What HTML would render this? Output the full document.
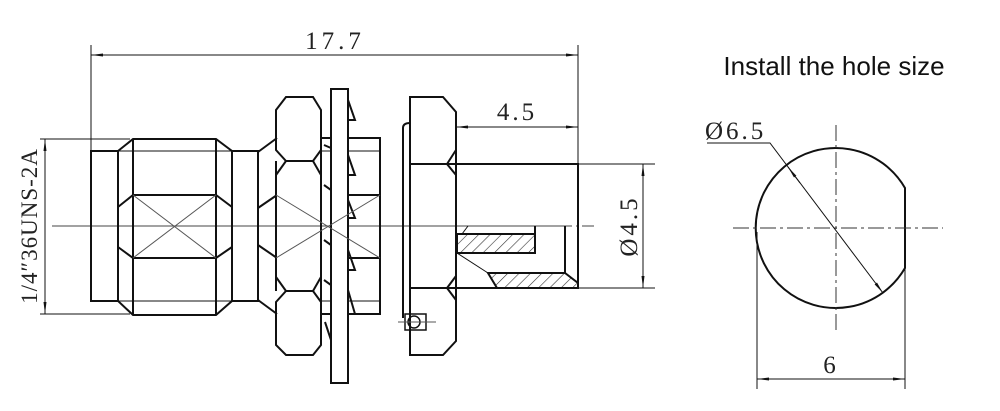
<!DOCTYPE html>
<html><head><meta charset="utf-8"><style>
html,body{margin:0;padding:0;background:#fff;width:1000px;height:411px;overflow:hidden}
svg{display:block}
.t{font-family:"Liberation Serif",serif;font-size:25px;fill:#222;letter-spacing:3px}
</style></head><body>
<svg width="1000" height="411" viewBox="0 0 1000 411" xmlns="http://www.w3.org/2000/svg">
<defs>
<marker id="a" viewBox="0 0 12 4" refX="12" refY="2" markerWidth="12" markerHeight="4" orient="auto-start-reverse" markerUnits="userSpaceOnUse"><path d="M0,0.5 L12,2 L0,3.5z" fill="#111"/></marker>
<pattern id="h" width="8" height="8" patternUnits="userSpaceOnUse" patternTransform="rotate(45)"><line x1="0" y1="0" x2="0" y2="8" stroke="#333" stroke-width="1.2"/></pattern>
</defs>
<g stroke="#111" fill="none" stroke-width="1">
<line x1="91" y1="45" x2="91" y2="151"/>
<line x1="578" y1="45" x2="578" y2="164"/>
<line x1="91" y1="55" x2="578" y2="55" marker-start="url(#a)" marker-end="url(#a)"/>
<line x1="456" y1="127" x2="578" y2="127" marker-start="url(#a)" marker-end="url(#a)"/>
<line x1="40" y1="139" x2="130" y2="139"/>
<line x1="40" y1="314" x2="130" y2="314"/>
<line x1="45" y1="139" x2="45" y2="314" marker-start="url(#a)" marker-end="url(#a)"/>
<line x1="578" y1="164" x2="655" y2="164"/>
<line x1="578" y1="288" x2="655" y2="288"/>
<line x1="643" y1="164" x2="643" y2="288" marker-start="url(#a)" marker-end="url(#a)"/>
<line x1="52" y1="226" x2="560" y2="226" stroke="#444"/>
<line x1="560" y1="226" x2="596" y2="226" stroke="#444" stroke-dasharray="12,4,2,4"/>
</g>
<g stroke="#111" fill="none" stroke-width="2">
<rect x="91" y="151" width="27" height="150"/>
<polygon points="118,151 133,139 216,139 232,151 232,301 216,315 133,315 118,301"/>
<line x1="133" y1="139" x2="133" y2="315"/>
<line x1="216" y1="139" x2="216" y2="315"/>
<polyline points="118,207 133,195 216,195 232,207"/>
<polyline points="118,247 133,258 216,258 232,247"/>
<line x1="118" y1="151" x2="232" y2="151" stroke-width="1"/>
<line x1="118" y1="301" x2="232" y2="301" stroke-width="1"/>
<rect x="232" y="151" width="26" height="150"/>
<polyline points="258,152 277,138"/>
<polyline points="258,208 277,195"/>
<polyline points="258,300 277,314"/>
<polyline points="258,245 277,258"/>
<polygon points="276,110 286,97 313,97 321,110 321,150 313,161 286,161 276,150"/>
<polygon points="276,302 286,291 313,291 321,302 321,345 313,355 286,355 276,345"/>
<line x1="276" y1="161" x2="276" y2="291"/>
<line x1="321" y1="161" x2="321" y2="291"/>
<polyline points="276,175 286,161"/><polyline points="321,175 313,161"/>
<polyline points="276,277 286,291"/><polyline points="321,277 313,291"/>
<rect x="321" y="138" width="59" height="176"/>
<line x1="348" y1="195" x2="380" y2="195"/>
<line x1="348" y1="258" x2="380" y2="258"/>
<line x1="321" y1="151" x2="380" y2="151" stroke-width="1"/>
<line x1="321" y1="301" x2="380" y2="301" stroke-width="1"/>
<polyline points="324,145 331,148 331,160"/><polyline points="324,185 331,190 331,200"/>
<polyline points="324,240 331,245 331,255"/><polyline points="324,280 331,285 331,295"/>
<polyline points="348,100 355,120 348,120"/><polyline points="348,155 355,175 348,175"/>
<polyline points="348,200 355,218 348,218"/><polyline points="348,250 355,270 348,270"/>
<polyline points="348,290 355,314"/>
<polyline points="325,322 331,340"/><polyline points="348,322 343,340 348,345"/>
<rect x="331" y="89" width="17" height="294" fill="#fff"/>
<path d="M403,318 L403,128 Q403,123 410,123"/>
<polygon points="410,97 443,97 456,112 456,341 443,355 410,355"/>
<line x1="410" y1="164" x2="456" y2="164"/>
<line x1="410" y1="288" x2="456" y2="288"/>
<polyline points="456,150 447,164 456,175"/>
<polyline points="456,276 447,288 456,300"/>
<rect x="405" y="314" width="21" height="16" stroke-width="1.5"/>
<circle cx="414" cy="322" r="6" stroke-width="1.5"/>
<polygon points="456,164 578,164 578,288 456,288"/>
<polygon points="457,234 462,234 535,234 535,253 457,253" fill="url(#h)"/>
<polygon points="488,273 565,273 578,283 578,288 497,288" fill="url(#h)"/>
<line x1="535" y1="226" x2="535" y2="234"/>
<line x1="565" y1="226" x2="565" y2="273"/>
<line x1="462" y1="234" x2="468" y2="226" stroke-width="1"/>
<line x1="457" y1="253" x2="488" y2="273" stroke-width="1"/>
</g>
<g stroke="#555" stroke-width="1" fill="none">
<line x1="133" y1="195" x2="216" y2="258"/><line x1="133" y1="258" x2="216" y2="195"/>
<line x1="276" y1="195" x2="380" y2="258"/><line x1="276" y1="258" x2="380" y2="195"/>
<line x1="398" y1="322" x2="436" y2="322"/>
</g>
<text class="t" x="335" y="49" text-anchor="middle" style="letter-spacing:4px">17.7</text>
<text class="t" x="517" y="120" text-anchor="middle">4.5</text>
<text class="t" transform="translate(37,226) rotate(-90)" text-anchor="middle" style="font-size:23px;letter-spacing:1px">1/4″36UNS-2A</text>
<text class="t" transform="translate(637,226) rotate(-90)" text-anchor="middle">Ø4.5</text>
<text x="834" y="75" text-anchor="middle" font-family="'Liberation Sans',sans-serif" font-size="26" fill="#111">Install the hole size</text>
<g stroke="#111" fill="none">
<path d="M905,188 A80,80 0 1,0 905,268 Z" stroke-width="2"/>
<line x1="733" y1="228" x2="943" y2="228" stroke-dasharray="16,4,3,4" stroke="#333"/>
<line x1="836" y1="125" x2="836" y2="333" stroke-dasharray="16,4,3,4" stroke="#333"/>
<line x1="757" y1="232" x2="757" y2="389"/>
<line x1="905" y1="268" x2="905" y2="389"/>
<line x1="757" y1="379" x2="905" y2="379" marker-start="url(#a)" marker-end="url(#a)"/>
<polyline points="707,143 770,143 883,293" marker-end="url(#a)"/>
<line x1="800" y1="183" x2="788" y2="167" marker-end="url(#a)"/>
</g>
<text class="t" x="705" y="139">Ø6.5</text>
<text class="t" x="831" y="373" text-anchor="middle">6</text>
</svg>
</body></html>
